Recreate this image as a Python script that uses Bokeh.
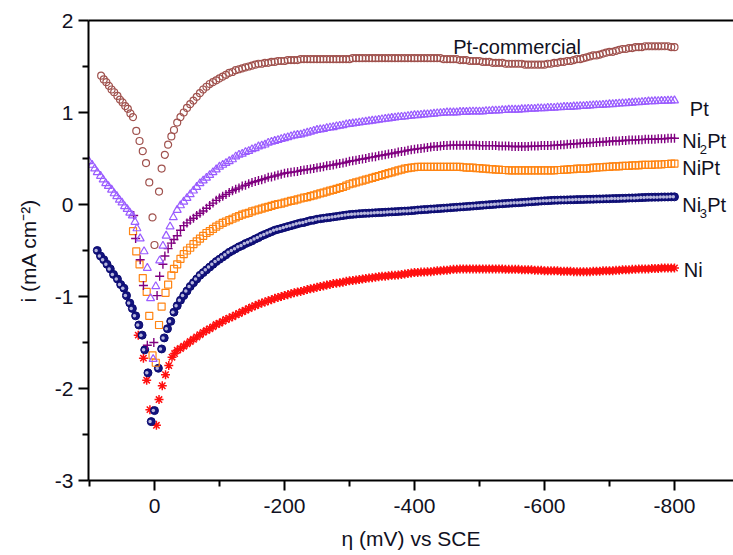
from bokeh.plotting import figure
from bokeh.models import Range1d, FixedTicker, LinearAxis, Label, ColumnDataSource
from bokeh.transform import dodge
from bokeh.embed import file_html
from bokeh.resources import INLINE

# ---------------- data (eta in mV vs SCE, i in mA cm^-2) ----------------
# common sweep for the cathodic tails
tail_eta = list(range(-35, -805, -5))

# Pt-commercial
pc_dip_eta = [82, 78, 74, 70, 66, 62, 57, 53, 49, 45, 41, 37, 33, 28, 23, 18, 13, 8, 3, 0, -7, -11, -16, -21, -26, -30]
pc_dip_i = [1.40, 1.36, 1.33, 1.29, 1.25, 1.22, 1.18, 1.14, 1.11, 1.07, 1.04, 0.99, 0.95, 0.80, 0.69, 0.58, 0.45, 0.24, -0.14, -0.44, 0.14, 0.39, 0.54, 0.65, 0.74, 0.81]
pc_tail_i = [
    0.89, 0.95, 1.00, 1.05, 1.09, 1.13, 1.17, 1.21, 1.25, 1.28,
    1.31, 1.33, 1.35, 1.37, 1.39, 1.41, 1.43, 1.44, 1.46, 1.47,
    1.48, 1.49, 1.50, 1.51, 1.52, 1.53, 1.53, 1.54, 1.54, 1.55,
    1.55, 1.56, 1.56, 1.56, 1.57, 1.57, 1.57, 1.57, 1.58, 1.58,
    1.58, 1.58, 1.58, 1.58, 1.58, 1.58, 1.58, 1.58, 1.58, 1.58,
    1.58, 1.58, 1.58, 1.58, 1.59, 1.59, 1.59, 1.59, 1.59, 1.59,
    1.59, 1.59, 1.59, 1.59, 1.59, 1.59, 1.59, 1.59, 1.59, 1.59,
    1.59, 1.59, 1.59, 1.59, 1.59, 1.59, 1.59, 1.59, 1.59, 1.59,
    1.59, 1.59, 1.58, 1.58, 1.58, 1.58, 1.58, 1.57, 1.57, 1.57,
    1.56, 1.56, 1.56, 1.56, 1.55, 1.55, 1.55, 1.54, 1.54, 1.54,
    1.54, 1.53, 1.53, 1.53, 1.53, 1.53, 1.53, 1.52, 1.52, 1.52,
    1.52, 1.52, 1.52, 1.52, 1.53, 1.53, 1.54, 1.54, 1.55, 1.55,
    1.56, 1.56, 1.57, 1.58, 1.58, 1.59, 1.60, 1.61, 1.62, 1.62,
    1.63, 1.64, 1.65, 1.66, 1.66, 1.67, 1.68, 1.69, 1.69, 1.70,
    1.70, 1.71, 1.71, 1.71, 1.72, 1.72, 1.72, 1.72, 1.72, 1.72,
    1.72, 1.72, 1.71, 1.71]

# Pt
pt_dip_eta = [101, 96, 92, 88, 83, 79, 75, 71, 66, 62, 58, 54, 50, 46, 42, 38, 34, 30, 27, 22, 16, 11, 6, 2, -2, -8, -13, -18, -24, -29]
pt_dip_i = [0.47, 0.43, 0.39, 0.35, 0.31, 0.27, 0.23, 0.20, 0.16, 0.12, 0.09, 0.05, 0.02, -0.02, -0.05, -0.09, -0.12, -0.19, -0.26, -0.37, -0.51, -0.69, -1.02, -1.68, -0.89, -0.61, -0.45, -0.34, -0.24, -0.14]
pt_tail_i = [
    -0.06, -0.01, 0.03, 0.07, 0.11, 0.15, 0.19, 0.23, 0.26, 0.29,
    0.32, 0.35, 0.38, 0.41, 0.43, 0.45, 0.47, 0.49, 0.52, 0.54,
    0.55, 0.57, 0.58, 0.60, 0.61, 0.63, 0.64, 0.65, 0.67, 0.68,
    0.69, 0.70, 0.71, 0.72, 0.73, 0.74, 0.75, 0.755, 0.76, 0.77,
    0.78, 0.79, 0.80, 0.81, 0.815, 0.82, 0.83, 0.835, 0.84, 0.85,
    0.855, 0.86, 0.87, 0.875, 0.88, 0.885, 0.89, 0.895, 0.90, 0.905,
    0.91, 0.915, 0.92, 0.925, 0.93, 0.935, 0.94, 0.945, 0.95, 0.952,
    0.955, 0.96, 0.965, 0.97, 0.97, 0.975, 0.978, 0.98, 0.983, 0.986,
    0.99, 0.993, 0.996, 1.00, 1.00, 1.00, 1.00, 1.005, 1.005, 1.005,
    1.01, 1.01, 1.01, 1.01, 1.01, 1.015, 1.015, 1.02, 1.02, 1.02,
    1.025, 1.025, 1.03, 1.03, 1.03, 1.03, 1.035, 1.035, 1.04, 1.04,
    1.04, 1.045, 1.045, 1.045, 1.05, 1.05, 1.05, 1.055, 1.055, 1.06,
    1.06, 1.06, 1.065, 1.065, 1.07, 1.07, 1.072, 1.075, 1.078, 1.08,
    1.08, 1.083, 1.086, 1.09, 1.09, 1.093, 1.096, 1.10, 1.10, 1.103,
    1.106, 1.11, 1.11, 1.113, 1.116, 1.12, 1.12, 1.122, 1.124, 1.125,
    1.127, 1.128, 1.129, 1.13]

# Ni2Pt
n2_dip_eta = [32, 29, 22, 17, 11, 1, -4, -8, -13, -16, -21, -26, -30]
n2_dip_i = [-0.12, -0.37, -0.60, -0.88, -1.53, -1.50, -0.99, -0.78, -0.65, -0.56, -0.48, -0.42, -0.38]
n2_tail_i = [
    -0.34, -0.28, -0.23, -0.20, -0.17, -0.15, -0.12, -0.095, -0.07, -0.04,
    -0.01, 0.015, 0.045, 0.07, 0.09, 0.11, 0.13, 0.15, 0.165, 0.18,
    0.20, 0.21, 0.225, 0.24, 0.25, 0.26, 0.27, 0.28, 0.295, 0.30,
    0.31, 0.32, 0.33, 0.34, 0.345, 0.35, 0.355, 0.36, 0.37, 0.375,
    0.38, 0.385, 0.39, 0.40, 0.405, 0.41, 0.42, 0.425, 0.43, 0.44,
    0.445, 0.45, 0.46, 0.47, 0.475, 0.48, 0.49, 0.495, 0.50, 0.51,
    0.515, 0.52, 0.53, 0.535, 0.54, 0.55, 0.555, 0.56, 0.57, 0.575,
    0.58, 0.59, 0.595, 0.60, 0.605, 0.61, 0.615, 0.62, 0.625, 0.63,
    0.63, 0.635, 0.64, 0.64, 0.645, 0.645, 0.645, 0.645, 0.645, 0.645,
    0.645, 0.645, 0.645, 0.64, 0.64, 0.64, 0.64, 0.64, 0.64, 0.635,
    0.635, 0.635, 0.635, 0.63, 0.63, 0.63, 0.63, 0.63, 0.63, 0.635,
    0.635, 0.635, 0.64, 0.64, 0.64, 0.64, 0.645, 0.645, 0.65, 0.65,
    0.655, 0.655, 0.66, 0.66, 0.665, 0.665, 0.67, 0.67, 0.675, 0.675,
    0.68, 0.68, 0.685, 0.685, 0.69, 0.69, 0.69, 0.695, 0.695, 0.70,
    0.70, 0.70, 0.705, 0.705, 0.71, 0.71, 0.71, 0.71, 0.715, 0.715,
    0.715, 0.72, 0.72, 0.72]

# NiPt
np_dip_eta = [33, 28, 23, 18, 12, 8, 3, -2, -7, -11, -17, -21, -26, -30]
np_dip_i = [-0.29, -0.51, -0.65, -0.80, -0.95, -1.21, -1.64, -1.72, -1.31, -1.11, -0.96, -0.87, -0.77, -0.70]
np_tail_i = [
    -0.65, -0.59, -0.54, -0.50, -0.47, -0.43, -0.40, -0.37, -0.34, -0.31,
    -0.29, -0.265, -0.24, -0.22, -0.20, -0.185, -0.17, -0.155, -0.14, -0.125,
    -0.11, -0.10, -0.09, -0.075, -0.065, -0.055, -0.045, -0.035, -0.025, -0.015,
    -0.005, 0.005, 0.01, 0.02, 0.03, 0.04, 0.045, 0.055, 0.065, 0.075,
    0.08, 0.09, 0.10, 0.11, 0.12, 0.13, 0.14, 0.15, 0.16, 0.17,
    0.18, 0.19, 0.205, 0.22, 0.23, 0.24, 0.25, 0.26, 0.27, 0.28,
    0.29, 0.30, 0.31, 0.32, 0.33, 0.34, 0.35, 0.36, 0.37, 0.38,
    0.39, 0.395, 0.40, 0.405, 0.41, 0.41, 0.41, 0.41, 0.41, 0.41,
    0.41, 0.41, 0.41, 0.41, 0.41, 0.41, 0.41, 0.41, 0.405, 0.40,
    0.40, 0.40, 0.395, 0.395, 0.39, 0.39, 0.385, 0.385, 0.38, 0.38,
    0.375, 0.375, 0.37, 0.37, 0.37, 0.37, 0.37, 0.37, 0.37, 0.37,
    0.37, 0.37, 0.37, 0.37, 0.37, 0.37, 0.37, 0.375, 0.375, 0.38,
    0.38, 0.385, 0.385, 0.39, 0.39, 0.39, 0.39, 0.395, 0.40, 0.40,
    0.405, 0.405, 0.41, 0.41, 0.415, 0.415, 0.415, 0.42, 0.42, 0.42,
    0.425, 0.425, 0.425, 0.43, 0.43, 0.43, 0.43, 0.435, 0.435, 0.435,
    0.44, 0.44, 0.445, 0.445]

# Ni3Pt
n3_dip_eta = [88, 83, 78, 73, 68, 63, 57, 52, 47, 43, 38, 34, 29, 24, 19, 15, 10, 5, 0, -6, -11, -15, -20, -25, -30]
n3_dip_i = [-0.50, -0.56, -0.60, -0.65, -0.70, -0.76, -0.81, -0.87, -0.91, -0.99, -1.07, -1.13, -1.21, -1.31, -1.42, -1.58, -1.83, -2.36, -2.24, -1.78, -1.57, -1.45, -1.35, -1.27, -1.17]
n3_tail_i = [
    -1.10, -1.04, -0.99, -0.94, -0.89, -0.85, -0.81, -0.77, -0.74, -0.71,
    -0.68, -0.65, -0.62, -0.595, -0.57, -0.545, -0.52, -0.50, -0.48, -0.46,
    -0.445, -0.425, -0.41, -0.395, -0.375, -0.36, -0.34, -0.325, -0.31, -0.295,
    -0.28, -0.27, -0.26, -0.25, -0.24, -0.23, -0.22, -0.21, -0.20, -0.195,
    -0.185, -0.175, -0.17, -0.16, -0.155, -0.15, -0.145, -0.14, -0.135, -0.13,
    -0.125, -0.12, -0.115, -0.11, -0.107, -0.104, -0.10, -0.098, -0.096, -0.094,
    -0.092, -0.09, -0.088, -0.086, -0.084, -0.082, -0.08, -0.078, -0.076, -0.074,
    -0.072, -0.07, -0.067, -0.064, -0.06, -0.058, -0.055, -0.053, -0.05, -0.048,
    -0.045, -0.043, -0.04, -0.038, -0.035, -0.032, -0.03, -0.027, -0.025, -0.022,
    -0.02, -0.017, -0.014, -0.011, -0.008, -0.005, -0.002, 0.0, 0.003, 0.006,
    0.008, 0.011, 0.013, 0.015, 0.018, 0.02, 0.023, 0.025, 0.028, 0.03,
    0.033, 0.035, 0.038, 0.04, 0.042, 0.044, 0.046, 0.047, 0.048, 0.049,
    0.05, 0.051, 0.052, 0.053, 0.054, 0.055, 0.056, 0.057, 0.058, 0.059,
    0.06, 0.061, 0.062, 0.063, 0.064, 0.065, 0.066, 0.067, 0.068, 0.07,
    0.071, 0.072, 0.074, 0.075, 0.077, 0.078, 0.079, 0.08, 0.08, 0.081,
    0.082, 0.082, 0.083, 0.083]

# Ni
ni_dip_eta = [25, 17, 12, 7, -3, -7, -12, -17, -22, -27, -31]
ni_dip_i = [-1.42, -1.67, -1.91, -2.23, -2.40, -2.12, -1.97, -1.85, -1.75, -1.66, -1.62]
ni_tail_i = [
    -1.585, -1.565, -1.54, -1.515, -1.49, -1.465, -1.44, -1.415, -1.39, -1.37,
    -1.35, -1.33, -1.305, -1.29, -1.27, -1.25, -1.235, -1.22, -1.20, -1.185,
    -1.165, -1.15, -1.13, -1.115, -1.10, -1.085, -1.07, -1.06, -1.045, -1.035,
    -1.02, -1.01, -1.00, -0.99, -0.98, -0.97, -0.96, -0.95, -0.945, -0.935,
    -0.925, -0.915, -0.91, -0.90, -0.89, -0.885, -0.875, -0.87, -0.86, -0.855,
    -0.85, -0.845, -0.835, -0.83, -0.825, -0.82, -0.815, -0.81, -0.805, -0.80,
    -0.795, -0.79, -0.785, -0.78, -0.78, -0.775, -0.77, -0.77, -0.765, -0.76,
    -0.755, -0.75, -0.745, -0.74, -0.74, -0.735, -0.735, -0.73, -0.73, -0.725,
    -0.72, -0.72, -0.715, -0.715, -0.71, -0.705, -0.705, -0.70, -0.70, -0.70,
    -0.70, -0.70, -0.70, -0.70, -0.70, -0.70, -0.70, -0.70, -0.70, -0.70,
    -0.70, -0.705, -0.705, -0.705, -0.705, -0.705, -0.71, -0.71, -0.71, -0.71,
    -0.715, -0.715, -0.715, -0.72, -0.72, -0.72, -0.72, -0.72, -0.725, -0.725,
    -0.725, -0.725, -0.73, -0.73, -0.73, -0.73, -0.73, -0.73, -0.725, -0.725,
    -0.725, -0.72, -0.72, -0.72, -0.72, -0.715, -0.715, -0.71, -0.71, -0.71,
    -0.705, -0.705, -0.70, -0.70, -0.70, -0.70, -0.695, -0.695, -0.695, -0.69,
    -0.69, -0.69, -0.69, -0.69]

x_ticks = [0, -200, -400, -600, -800]
x_tick_labels = ["0", "-200", "-400", "-600", "-800"]
x_minor = [100, -100, -300, -500, -700]
y_ticks = [2, 1, 0, -1, -2, -3]
y_tick_labels = ["2", "1", "0", "-1", "-2", "-3"]
y_minor = [1.5, 0.5, -0.5, -1.5, -2.5]

FONT = "Liberation Sans"
TXT = "#111122"

# ---------------- figure ----------------
p = figure(width=733, height=555, output_backend="svg", toolbar_location=None,
           x_range=Range1d(101.5, -890.8), y_range=Range1d(-3, 2),
           min_border_left=88, min_border_right=0, min_border_top=20, min_border_bottom=75,
           outline_line_color=None, background_fill_color="white", border_fill_color="white")
p.xgrid.visible = False
p.ygrid.visible = False

for ax in (p.xaxis[0], p.yaxis[0]):
    ax.axis_line_width = 2
    ax.major_tick_line_width = 2
    ax.minor_tick_line_width = 2
    ax.major_tick_in = 0
    ax.minor_tick_in = 0
    ax.major_tick_out = 10
    ax.minor_tick_out = 6
    ax.major_label_text_font = FONT
    ax.major_label_text_font_size = "21px"
    ax.major_label_text_color = TXT
    ax.axis_label_text_font = FONT
    ax.axis_label_text_font_size = "21px"
    ax.axis_label_text_font_style = "normal"
    ax.axis_label_text_color = TXT

p.xaxis[0].ticker = FixedTicker(ticks=x_ticks, minor_ticks=x_minor)
p.yaxis[0].ticker = FixedTicker(ticks=y_ticks, minor_ticks=y_minor)
p.xaxis[0].major_label_overrides = {t: s for t, s in zip(x_ticks, x_tick_labels)}
p.yaxis[0].major_label_overrides = {t: s for t, s in zip(y_ticks, y_tick_labels)}
p.xaxis[0].axis_label = "η (mV) vs SCE"
p.yaxis[0].axis_label = "i (mA cm⁻²)"
p.xaxis[0].major_label_standoff = 8
p.yaxis[0].major_label_standoff = 5
p.xaxis[0].axis_label_standoff = 11
p.yaxis[0].axis_label_standoff = 12

top = LinearAxis(ticker=FixedTicker(ticks=[]), axis_line_width=2,
                 major_tick_out=0, minor_tick_out=0, major_label_text_font_size="0px")
p.add_layout(top, "above")

def src(dip_eta, dip_i, tail_i):
    return ColumnDataSource(dict(x=list(dip_eta) + tail_eta, y=list(dip_i) + tail_i))

s_pc = src(pc_dip_eta, pc_dip_i, pc_tail_i)
s_pt = src(pt_dip_eta, pt_dip_i, pt_tail_i)
s_n2 = src(n2_dip_eta, n2_dip_i, n2_tail_i)
s_np = src(np_dip_eta, np_dip_i, np_tail_i)
s_n3 = src(n3_dip_eta, n3_dip_i, n3_tail_i)
s_ni = src(ni_dip_eta, ni_dip_i, ni_tail_i)

p.scatter("x", "y", source=s_ni, marker="asterisk", size=9, line_color="#FF1010", line_width=1.5)
p.scatter("x", "y", source=s_n3, marker="circle", size=8, line_color="#0B0B70", fill_color="#14147E", line_width=1)
p.scatter(dodge("x", 1.8, range=p.x_range), "y", source=s_n3, marker="circle", size=3.5,
          line_color=None, fill_color="#B8B8DC")
p.scatter("x", "y", source=s_np, marker="square", size=7, line_color="#FF8412", fill_color=None, line_width=1.2)
p.scatter("x", "y", source=s_n2, marker="cross", size=9, line_color="#800080", line_width=1.4)
p.scatter("x", "y", source=s_pt, marker="triangle", size=8, line_color="#9A5CFF", fill_color=None, line_width=1.2)
p.scatter("x", "y", source=s_pc, marker="circle", size=7, line_color="#A0524E", fill_color=None, line_width=1.2)

def lab(x, y, text, size="20px", xo=0):
    p.add_layout(Label(x=x, y=y, text=text, x_offset=xo, text_font=FONT, text_font_size=size,
                       text_color=TXT, text_baseline="alphabetic", text_align="left"))

lab(-459.6, 1.71, "Pt-commercial")
lab(-823.6, 1.035, "Pt")
lab(-811.9, 0.685, "Ni")
lab(-811.9, 0.594, "2", size="13px", xo=17.6)
lab(-811.9, 0.685, "Pt", xo=25)
lab(-811.9, 0.395, "NiPt")
lab(-811.9, -0.004, "Ni")
lab(-811.9, -0.094, "3", size="13px", xo=17.6)
lab(-811.9, -0.004, "Pt", xo=25)
lab(-814.3, -0.71, "Ni")

open("out.html", "w").write(file_html(p, INLINE))
